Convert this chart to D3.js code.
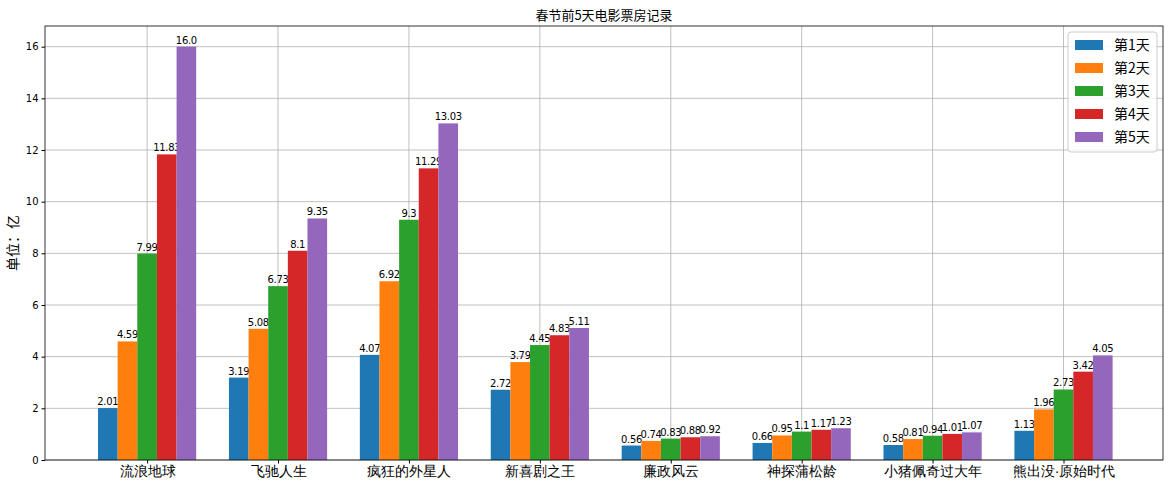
<!DOCTYPE html>
<html><head><meta charset="utf-8">
<script src="https://d3js.org/d3.v7.min.js"></script>
<style>body{margin:0;background:#fff;font-family:"Noto Sans CJK SC","DejaVu Sans",sans-serif;}</style>
</head><body><div id="vis"></div>
<script>
const movies = ["流浪地球","飞驰人生","疯狂的外星人","新喜剧之王","廉政风云","神探蒲松龄","小猪佩奇过大年","熊出没·原始时代"];
const days = ["第1天","第2天","第3天","第4天","第5天"];
const day1 = [2.01,3.19,4.07,2.72,0.56,0.66,0.58,1.13];
const day2 = [4.59,5.08,6.92,3.79,0.74,0.95,0.81,1.96];
const day3 = [7.99,6.73,9.3,4.45,0.83,1.1,0.94,2.73];
const day4 = [11.83,8.1,11.29,4.83,0.88,1.17,1.01,3.42];
const day5 = [16.0,9.35,13.03,5.11,0.92,1.23,1.07,4.05];
const series = [day1,day2,day3,day4,day5];
const colors = ["#1f77b4","#ff7f0e","#2ca02c","#d62728","#9467bd"];
const yTicks = [0,2,4,6,8,10,12,14,16];

const W = 1173, H = 490;
const m = {left:45, right:10, top:26, bottom:30};
const svg = d3.select("#vis").append("svg").attr("width",W).attr("height",H);

const x = d3.scaleLinear().domain([-0.78, 7.76]).range([m.left, W-m.right]);
const y = d3.scaleLinear().domain([0, 16.8]).range([H-m.bottom, m.top]);
const bw = x(0.15) - x(0);

// grid
svg.append("g").selectAll("line").data(yTicks).join("line")
    .attr("x1",m.left).attr("x2",W-m.right).attr("y1",d=>y(d)).attr("y2",d=>y(d))
    .attr("stroke","#b0b0b0").attr("stroke-width",0.8);
svg.append("g").selectAll("line").data(movies).join("line")
    .attr("x1",(d,i)=>x(i)).attr("x2",(d,i)=>x(i)).attr("y1",m.top).attr("y2",H-m.bottom)
    .attr("stroke","#b0b0b0").attr("stroke-width",0.8);

// bars
series.forEach((vals, s) => {
    const g = svg.append("g");
    g.selectAll("rect").data(vals).join("rect")
        .attr("x",(d,i)=>x(i) + (s-2.5)*bw)
        .attr("width",bw)
        .attr("y",d=>y(d)).attr("height",d=>y(0)-y(d))
        .attr("fill",colors[s]);
    g.selectAll("text").data(vals).join("text")
        .attr("x",(d,i)=>x(i) + (s-2)*bw)
        .attr("y",d=>y(d)-3)
        .attr("text-anchor","middle").attr("font-size",10).attr("fill","#000")
        .attr("font-family","DejaVu Sans").attr("letter-spacing",-0.3)
        .text(d=> d===16 ? "16.0" : d);
});

// axes
svg.append("g").attr("transform",`translate(0,${H-m.bottom})`)
    .call(d3.axisBottom(x).tickValues(d3.range(movies.length)).tickFormat(i=>movies[i]).tickSize(3.5).tickSizeOuter(0))
    .call(g=>g.select(".domain").remove())
    .selectAll("text").attr("font-size",14).attr("fill","#000");
svg.append("g").attr("transform",`translate(${m.left},0)`)
    .call(d3.axisLeft(y).tickValues(yTicks).tickSize(3.5).tickSizeOuter(0))
    .call(g=>g.select(".domain").remove())
    .selectAll("text").attr("font-size",10).attr("font-family","DejaVu Sans").attr("fill","#000");
svg.append("rect").attr("x",m.left).attr("y",m.top).attr("width",W-m.right-m.left).attr("height",H-m.bottom-m.top)
    .attr("fill","none").attr("stroke","#000").attr("stroke-width",0.8);

svg.append("text").attr("x",(m.left+W-m.right)/2).attr("y",20).attr("text-anchor","middle")
    .attr("font-size",13).text("春节前5天电影票房记录");
svg.append("text").attr("transform",`translate(18,${(m.top+H-m.bottom)/2}) rotate(-90)`)
    .attr("text-anchor","middle").attr("font-size",14).text("单位：亿");

// legend
const lg = svg.append("g").attr("transform","translate(1068,32)");
lg.append("rect").attr("width",89).attr("height",120).attr("rx",3)
    .attr("fill","#fff").attr("fill-opacity",0.8).attr("stroke","#ccc");
days.forEach((d,i)=>{
    lg.append("rect").attr("x",7).attr("y",8+i*23).attr("width",28).attr("height",10).attr("fill",colors[i]);
    lg.append("text").attr("x",46).attr("y",18+i*23).attr("font-size",14).text(d);
});
</script></body></html>
